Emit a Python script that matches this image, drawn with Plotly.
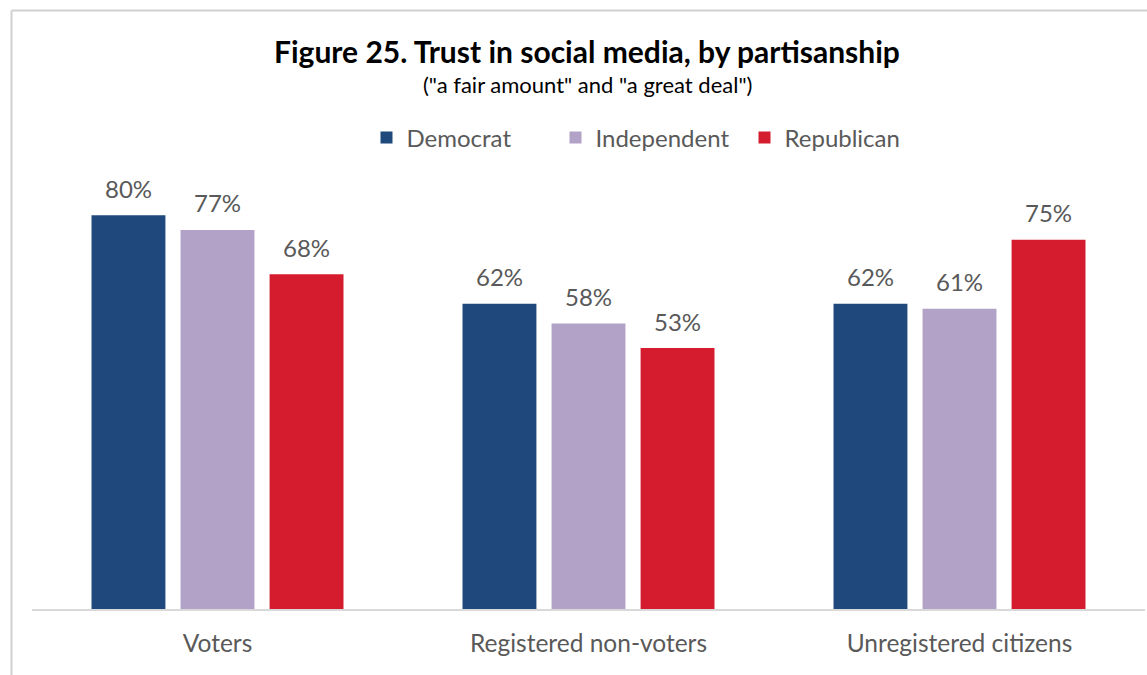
import plotly.graph_objects as go

# Share trusting social media "a fair amount" or "a great deal", by group and party
groups = ["Voters", "Registered non-voters", "Unregistered citizens"]
democrat = [80, 62, 62]
independent = [77, 58, 61]
republican = [68, 53, 75]

series = [
    ("Democrat", democrat, "#1f497d"),
    ("Independent", independent, "#b3a2c7"),
    ("Republican", republican, "#d41c2e"),
]

W, H = 1147, 675
L, R, T, B = 32, 2, 166, 66
plot_w = W - L - R
plot_h = H - T - B

FONT = "Lato"
TEXT_GREY = "#595959"
BARGAP = 0.28

fig = go.Figure()
for i, (name, vals, color) in enumerate(series):
    fig.add_trace(go.Bar(
        name=name,
        x=groups,
        y=vals,
        offsetgroup=str(i),
        marker=dict(color=color, line=dict(width=0)),
        hovertemplate="%{x}: %{y}%<extra>" + name + "</extra>",
    ))


def px_x(px):
    return (px - L) / plot_w


def px_y(py):
    return (H - B - py) / plot_h


# value labels above each bar, placed from the same values as the bars
n = len(series)
slot = (1 - BARGAP) / n
labels = []
for i, (name, vals, color) in enumerate(series):
    for g, v in enumerate(vals):
        labels.append(dict(
            x=g - (1 - BARGAP) / 2 + slot * (i + 0.5),
            y=v,
            xref="x", yref="y",
            text=f"{v}%",
            showarrow=False,
            xanchor="center", yanchor="middle",
            yshift=27,
            font=dict(family=FONT, size=24, color=TEXT_GREY),
        ))

fig.update_layout(
    width=W,
    height=H,
    margin=dict(l=L, r=R, t=T, b=B),
    paper_bgcolor="white",
    plot_bgcolor="white",
    barmode="group",
    bargap=BARGAP,
    bargroupgap=0.17,
    font=dict(family=FONT, color=TEXT_GREY),
    showlegend=True,
    legend=dict(
        orientation="h",
        x=px_x(650), xanchor="center",
        y=px_y(138), yanchor="middle",
        font=dict(family=FONT, size=24, color=TEXT_GREY),
        entrywidth=144,
        entrywidthmode="pixels",
        traceorder="normal",
    ),
    xaxis=dict(
        showline=True, linecolor="#d9d9d9", linewidth=2,
        ticks="", showgrid=False,
        tickfont=dict(family=FONT, size=24.5, color=TEXT_GREY),
        ticklabelstandoff=12,
    ),
    yaxis=dict(
        range=[0, 90], visible=False, showgrid=False, zeroline=False,
    ),
    annotations=labels + [
        dict(
            text="<b>Figure 25. Trust in social media, by partisanship</b>",
            xref="paper", yref="paper", x=px_x(587), y=px_y(51),
            xanchor="center", yanchor="middle", showarrow=False,
            font=dict(family=FONT, size=30, color="#000000"),
        ),
        dict(
            text='("a fair amount" and "a great deal")',
            xref="paper", yref="paper", x=px_x(587), y=px_y(84),
            xanchor="center", yanchor="middle", showarrow=False,
            font=dict(family=FONT, size=22, color="#000000"),
        ),
    ],
    shapes=[
        # outer frame (left and top edges)
        dict(type="line", xref="paper", yref="paper",
             x0=px_x(11.5), x1=px_x(11.5), y0=px_y(10.5), y1=px_y(H + 5),
             line=dict(color="#d0d0d0", width=2)),
        dict(type="line", xref="paper", yref="paper",
             x0=px_x(11.5), x1=px_x(W + 5), y0=px_y(10.5), y1=px_y(10.5),
             line=dict(color="#d0d0d0", width=2)),
    ],
)

fig.write_html("out.html")
